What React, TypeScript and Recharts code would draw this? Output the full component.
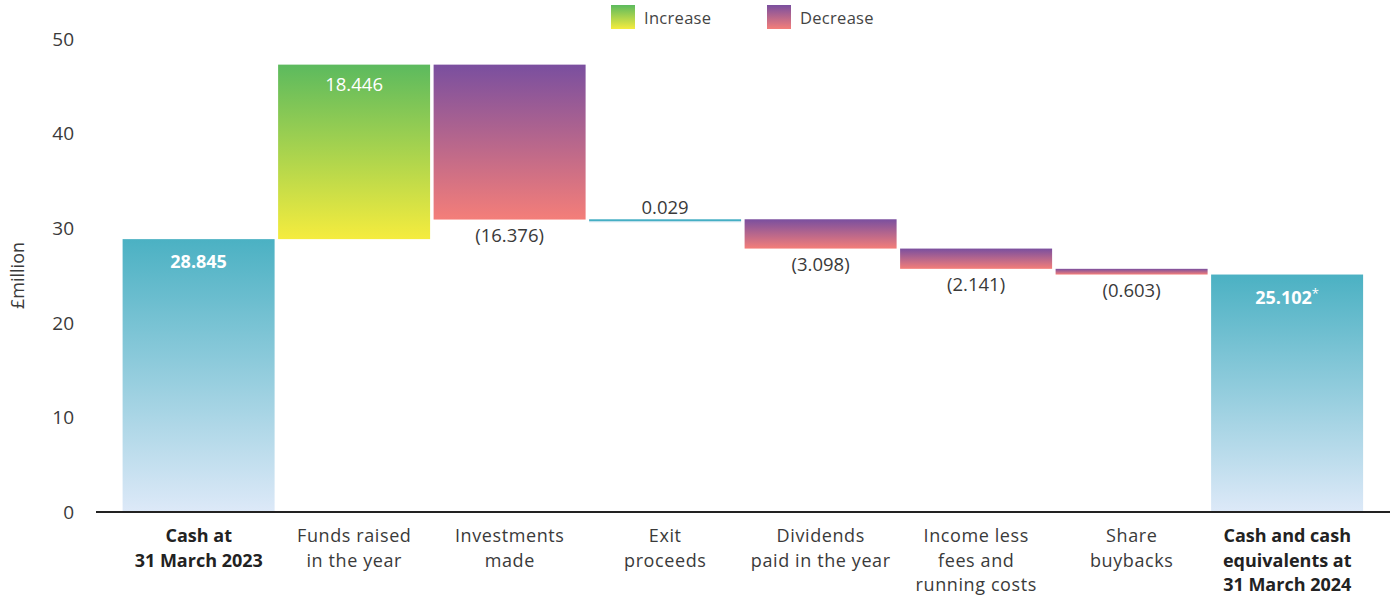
import React from 'react';
import { BarChart, Bar, XAxis, YAxis, LabelList } from 'recharts';

const categories = [
  'Cash at\n31 March 2023',
  'Funds raised\nin the year',
  'Investments\nmade',
  'Exit\nproceeds',
  'Dividends\npaid in the year',
  'Income less\nfees and\nrunning costs',
  'Share\nbuybacks',
  'Cash and cash\nequivalents at\n31 March 2024',
];
const values = [28.845, 18.446, -16.376, 0.029, -3.098, -2.141, -0.603, 25.102];
const kinds = ['total', 'increase', 'decrease', 'neutral', 'decrease', 'decrease', 'decrease', 'total'];
const valueLabels = ['28.845', '18.446', '(16.376)', '0.029', '(3.098)', '(2.141)', '(0.603)', '25.102'];
const labelSuffix = ['', '', '', '', '', '', '', '*'];
const boldTicks = [true, false, false, false, false, false, false, true];
const yTicks = [0, 10, 20, 30, 40, 50];

const FONT = '"Open Sans", Lato, sans-serif';
const TEXT = '#3a3a3a';

let running = 0;
const data = categories.map((name, i) => {
  const v = values[i];
  const k = kinds[i];
  let low: number;
  let high: number;
  if (k === 'total') {
    low = 0;
    high = v;
    running = v;
  } else {
    const next = running + v;
    low = Math.min(running, next);
    high = Math.max(running, next);
    running = next;
  }
  return { name, range: [low, high], label: valueLabels[i] };
});

const gradId = (k: string) =>
  k === 'increase' ? 'gInc' : k === 'decrease' ? 'gDec' : k === 'neutral' ? 'gNeu' : 'gTot';

const BarShape = (props: any) => {
  const { x, y, width, height, index } = props;
  const k = kinds[index];
  const top = Math.min(y, y + height);
  let h = Math.abs(height);
  if (h < 3) h = 3;
  return <rect x={x} y={top} width={width} height={h} fill={`url(#${gradId(k)})`} />;
};

const ValueLabel = (props: any) => {
  const { x, y, width, height, index, value } = props;
  const k = kinds[index];
  const top = Math.min(y, y + height);
  const bottom = Math.max(y, y + height, top + 3);
  const cx = x + width / 2;
  if (k === 'total') {
    return (
      <text x={cx} y={top + 29} textAnchor="middle" fill="#ffffff" fontSize={18} fontWeight={700} fontFamily={FONT}>
        {value}
        {labelSuffix[index] ? (
          <tspan fontSize={13} fontWeight={400} dy={-6}>{labelSuffix[index]}</tspan>
        ) : null}
      </text>
    );
  }
  if (k === 'increase') {
    return (
      <text x={cx} y={top + 26} textAnchor="middle" fill="#ffffff" fontSize={18.5} fontWeight={400} fontFamily={FONT}>
        {value}
      </text>
    );
  }
  if (k === 'neutral') {
    return (
      <text x={cx} y={top - 5} textAnchor="middle" fill={TEXT} fontSize={18.5} fontWeight={400} fontFamily={FONT}>
        {value}
      </text>
    );
  }
  return (
    <text x={cx} y={bottom + 22} textAnchor="middle" fill={TEXT} fontSize={18.5} fontWeight={400} fontFamily={FONT}>
      {value}
    </text>
  );
};

const XTick = (props: any) => {
  const { x, y, payload, index } = props;
  const lines = String(payload.value).split('\n');
  const bold = boldTicks[index];
  return (
    <text
      x={x}
      y={y + 30}
      textAnchor="middle"
      fill={bold ? '#222222' : TEXT}
      fontSize={18}
      fontWeight={bold ? 700 : 400}
      letterSpacing={bold ? 0 : 0.6}
      fontFamily={FONT}
    >
      {lines.map((l, i) => (
        <tspan key={i} x={x} dy={i === 0 ? 0 : 24.5}>
          {l}
        </tspan>
      ))}
    </text>
  );
};

const YLabel = (props: any) => {
  const vb = props.viewBox || { x: 0, y: 39, width: 96, height: 473 };
  const cx = vb.x + 24;
  const cy = vb.y + vb.height / 2;
  return (
    <text x={cx} y={cy} transform={`rotate(-90, ${cx}, ${cy})`} textAnchor="middle" fill={TEXT} fontSize={18} fontWeight={400} fontFamily={FONT}>
      £million
    </text>
  );
};

const legendItems = [
  { label: 'Increase', left: 611, grad: 'linear-gradient(to bottom, #5cba5e, #f5ec3e)' },
  { label: 'Decrease', left: 767, grad: 'linear-gradient(to bottom, #7a4f9f, #f47e79)' },
];

export default function App() {
  return (
    <div style={{ position: 'absolute', left: 0, top: 0, width: 1394, height: 602, background: '#ffffff' }}>
      <BarChart
        width={1394}
        height={602}
        data={data}
        margin={{ top: 39, right: 4, bottom: 0, left: 0 }}
        barCategoryGap={1.6}
      >
        <defs>
          <linearGradient id="gTot" x1="0" y1="0" x2="0" y2="1">
            <stop offset="0%" stopColor="#4bb1c3" />
            <stop offset="100%" stopColor="#dde9f8" />
          </linearGradient>
          <linearGradient id="gNeu" x1="0" y1="0" x2="0" y2="1">
            <stop offset="0%" stopColor="#45afc4" />
            <stop offset="55%" stopColor="#45afc4" />
            <stop offset="60%" stopColor="#b9dde8" />
            <stop offset="100%" stopColor="#cfe6f0" />
          </linearGradient>
          <linearGradient id="gInc" x1="0" y1="0" x2="0" y2="1">
            <stop offset="0%" stopColor="#5cba5e" />
            <stop offset="100%" stopColor="#f5ec3e" />
          </linearGradient>
          <linearGradient id="gDec" x1="0" y1="0" x2="0" y2="1">
            <stop offset="0%" stopColor="#7a4f9f" />
            <stop offset="100%" stopColor="#f47e79" />
          </linearGradient>
        </defs>
        <XAxis
          dataKey="name"
          height={90}
          interval={0}
          tick={<XTick />}
          tickLine={false}
          tickSize={0}
          tickMargin={0}
          axisLine={{ stroke: '#222222', strokeWidth: 2 }}
          padding={{ left: 25, right: 25 }}
        />
        <YAxis
          width={96}
          domain={[0, 50]}
          ticks={yTicks}
          axisLine={false}
          tickLine={false}
          tickSize={0}
          tickMargin={22}
          tick={{ fill: TEXT, fontSize: 19, fontWeight: 400, fontFamily: FONT }}
          label={<YLabel />}
        />
        <Bar dataKey="range" shape={<BarShape />} isAnimationActive={false}>
          <LabelList dataKey="label" content={<ValueLabel />} />
        </Bar>
      </BarChart>
      {legendItems.map((it) => (
        <div
          key={it.label}
          style={{
            position: 'absolute',
            left: it.left,
            top: 5,
            display: 'flex',
            alignItems: 'center',
            fontFamily: FONT,
            fontWeight: 400,
            fontSize: 16.5,
            letterSpacing: 0.3,
            color: '#444444',
          }}
        >
          <div style={{ width: 24, height: 24, background: it.grad, marginRight: 9 }} />
          <span>{it.label}</span>
        </div>
      ))}
    </div>
  );
}
